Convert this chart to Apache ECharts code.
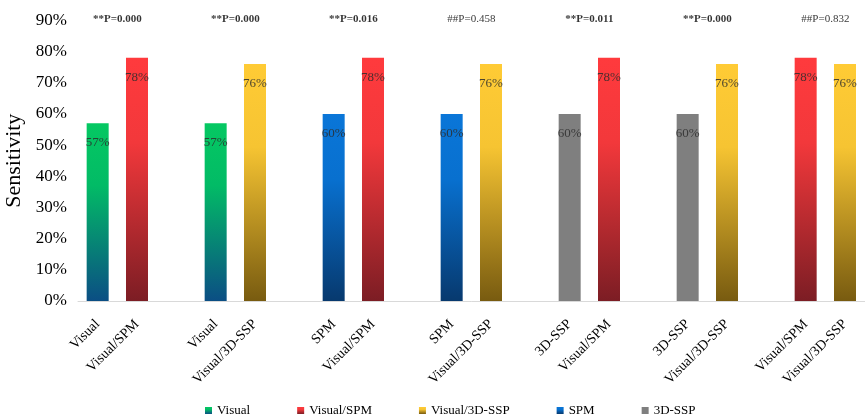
<!DOCTYPE html>
<html>
<head>
<meta charset="utf-8">
<script src="https://cdn.jsdelivr.net/npm/echarts@6/dist/echarts.min.js"></script>
<style>
  html, body { margin: 0; padding: 0; background: #fff; }
  #chart { width: 865px; height: 416px; }
</style>
</head>
<body>
<div id="chart"></div>
<script>
// 21 slots: two bars per comparison, then an empty slot
const categories = [
  'Visual', 'Visual/SPM', '',
  'Visual', 'Visual/3D-SSP', '',
  'SPM', 'Visual/SPM', '',
  'SPM', 'Visual/3D-SSP', '',
  '3D-SSP', 'Visual/SPM', '',
  '3D-SSP', 'Visual/3D-SSP', '',
  'Visual/SPM', 'Visual/3D-SSP', ''
]

const seriesNames = ['Visual', 'Visual/SPM', 'Visual/3D-SSP', 'SPM', '3D-SSP']

const visualData =    [57, null, null, 57, null, null, null, null, null, null, null, null, null, null, null, null, null, null, null, null, null]
const visualSpmData = [null, 78, null, null, null, null, null, 78, null, null, null, null, null, 78, null, null, null, null, 78, null, null]
const visualSspData = [null, null, null, null, 76, null, null, null, null, null, 76, null, null, null, null, null, 76, null, null, 76, null]
const spmData =       [null, null, null, null, null, null, 60, null, null, 60, null, null, null, null, null, null, null, null, null, null, null]
const sspData =       [null, null, null, null, null, null, null, null, null, null, null, null, 60, null, null, 60, null, null, null, null, null]

// p-value notes, attached to the first slot of each pair
const pSlots = [0, 3, 6, 9, 12, 15, 18]
const pLabels = ['**P=0.000', '**P=0.000', '**P=0.016', '##P=0.458', '**P=0.011', '**P=0.000', '##P=0.832']

const yTicks = [0, 10, 20, 30, 40, 50, 60, 70, 80, 90]

const SERIF = '"Liberation Serif", "Times New Roman", serif'

// 渐变色
const grad = (top, mid, bottom) => new echarts.graphic.LinearGradient(0, 0, 0, 1, [
  { offset: 0, color: top },
  { offset: 0.35, color: mid },
  { offset: 1, color: bottom }
])

const COLORS = [
  grad('#05c862', '#02bb66', '#0b4e84'),
  grad('#ff3a3d', '#f2383b', '#7c1d24'),
  grad('#ffcb35', '#f6c432', '#785b10'),
  grad('#0a76d8', '#0870cf', '#07396e'),
  '#7f7f7f'
]

const dataList = [visualData, visualSpmData, visualSspData, spmData, sspData]

const barSeries = seriesNames.map((name, i) => ({
  name,
  type: 'bar',
  stack: 'slot',
  barWidth: 22,
  data: dataList[i],
  itemStyle: { color: COLORS[i] },
  label: {
    show: true,
    position: 'insideTop',
    distance: 13,
    formatter: '{c}%',
    color: 'rgba(45,45,45,0.85)',
    fontFamily: SERIF,
    fontSize: 13
  }
}))

const noteSeries = {
  type: 'scatter',
  symbolSize: 0,
  silent: true,
  data: pSlots.map((s, i) => ({
    value: [s, yTicks[yTicks.length - 1]],
    label: {
      formatter: pLabels[i],
      fontWeight: pLabels[i].startsWith('**') ? 'bold' : 'normal'
    }
  })),
  label: {
    show: true,
    position: 'inside',
    offset: [19.7, -1],
    color: '#000',
    fontFamily: SERIF,
    fontSize: 11
  }
}

const chart = echarts.init(document.getElementById('chart'))
chart.setOption({
  animation: false,
  backgroundColor: '#fff',
  grid: { left: 78, width: 826, top: 20.4, bottom: 115, outerBoundsMode: 'none', containLabel: false },
  legend: {
    data: seriesNames,
    left: 200,
    top: 399,
    itemWidth: 7,
    itemHeight: 7,
    itemGap: 47,
    icon: 'rect',
    textStyle: { fontFamily: SERIF, fontSize: 13, color: '#000' }
  },
  xAxis: {
    type: 'category',
    data: categories,
    axisLine: { lineStyle: { color: '#d9d9d9', width: 1 } },
    axisTick: { show: false },
    axisLabel: {
      interval: 0,
      rotate: 45,
      margin: 21,
      fontFamily: SERIF,
      fontSize: 14,
      color: '#000'
    }
  },
  yAxis: {
    type: 'value',
    min: 0,
    max: 90,
    interval: 10,
    name: 'Sensitivity',
    nameLocation: 'middle',
    nameGap: 48,
    nameTextStyle: { fontFamily: SERIF, fontSize: 22, color: '#000' },
    axisLine: { show: false },
    axisTick: { show: false },
    splitLine: { show: false },
    axisLabel: {
      formatter: '{value}%',
      margin: 11,
      fontFamily: SERIF,
      fontSize: 17,
      color: '#000'
    }
  },
  series: [...barSeries, noteSeries]
})
</script>
</body>
</html>
